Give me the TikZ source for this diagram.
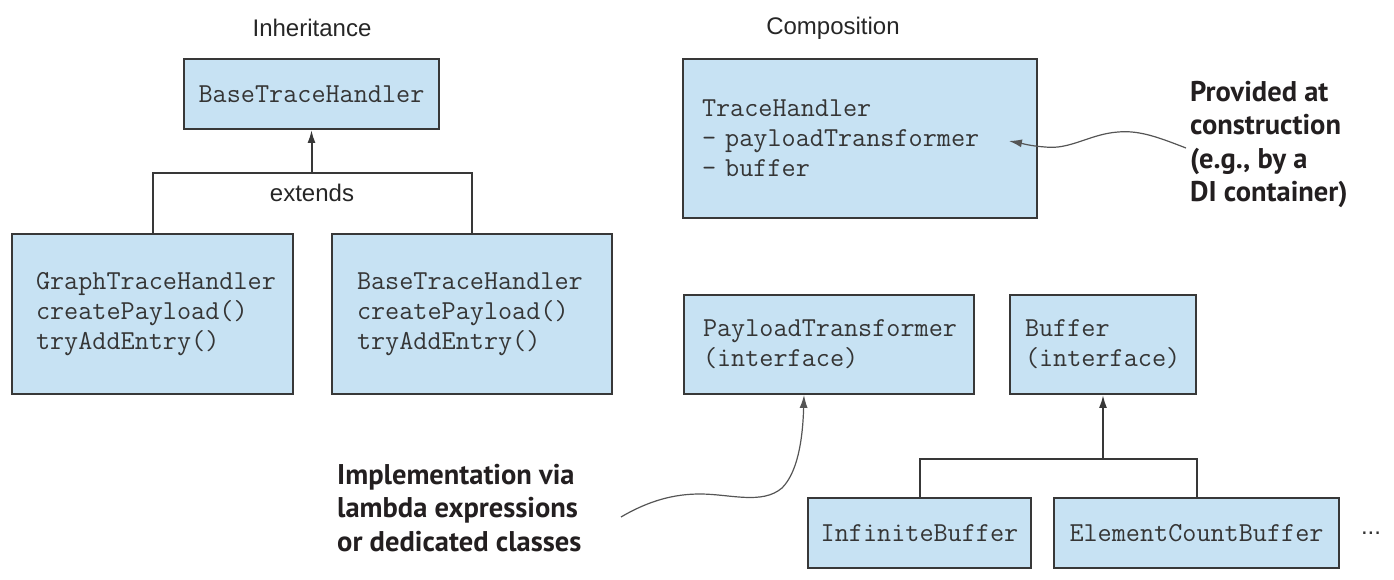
\documentclass[tikz,border=0pt]{standalone}
\usepackage{fontspec}
\setmainfont{Liberation Sans}
\newfontfamily\notefont{PT Sans}
\usetikzlibrary{arrows.meta,calc}
\definecolor{boxfill}{HTML}{C7E2F3}
\definecolor{boxline}{HTML}{383838}
\definecolor{codetext}{HTML}{353535}
\definecolor{notetext}{HTML}{231F20}
\definecolor{curveline}{HTML}{555555}
\begin{document}
\begin{tikzpicture}[x=1pt,y=-1pt,
  cls/.style={draw=boxline, line width=1.8pt, fill=boxfill, text=codetext,
    font=\ttfamily\fontsize{27.4}{30}\selectfont,
    inner ysep=0pt, inner xsep=0pt},
  lcls/.style 2 args={cls, text width=#1, inner xsep=#2, align=left,
    execute at begin node={\hyphenpenalty=10000\relax}},
  title/.style={font=\fontsize{24}{28}\selectfont, text=black!85, inner sep=0pt},
  note/.style={font=\notefont\bfseries\fontsize{28.5}{33.5}\selectfont, text=notetext,
    align=left, inner sep=0pt},
  link/.style={draw=boxline, line width=2pt},
  arr/.style={link, -{Latex[length=13pt,width=8pt]}},
  carr/.style={draw=curveline, line width=1.2pt, -{Latex[length=13pt,width=8pt]}}
]
\useasboundingbox (0,0) rectangle (1394,580);

% titles
\node[title] (tinh) at (312,28) {Inheritance};
\node[title] (tcomp) at (833,28) {Composition};

% inheritance side
\node[cls, minimum width=255pt, minimum height=70pt] (top) at (311.5,94) {BaseTraceHandler};
\node[lcls={233pt}{24pt}, minimum height=160pt] (lb) at (152.5,314)
  {GraphTraceHandler\\createPayload()\\tryAddEntry()};
\node[lcls={230pt}{25pt}, minimum height=160pt] (rb) at (472,314)
  {BaseTraceHandler\\createPayload()\\tryAddEntry()};
\coordinate (j1) at (311.5,173);
\draw[link] (lb.north) |- (j1) -| (rb.north);
\draw[arr] (j1) -- (top.south);
\node[title] (ext) at (312,193) {extends};

% composition side
\node[lcls={316pt}{19pt}, minimum height=159pt] (th) at (860,138.5)
  {TraceHandler\\- payloadTransformer\\- buffer};
\node[lcls={252pt}{19pt}, minimum height=99pt] (pt) at (829,344.5)
  {PayloadTransformer\\(interface)};
\node[lcls={156pt}{15pt}, minimum height=99pt] (bf) at (1103,344.5)
  {Buffer\\(interface)};
\node[cls, minimum width=223pt, minimum height=70pt] (ib) at (919.5,533) {InfiniteBuffer};
\node[cls, minimum width=285pt, minimum height=70pt] (ecb) at (1196.5,533) {ElementCountBuffer};
\node[title, text=black!80] (more) at (1371,533) {...};
\coordinate (j2) at (1103,459);
\draw[link] (ib.north) |- (j2) -| (ecb.north);
\draw[arr] (j2) -- (bf.south);

% notes
\node[note, anchor=north west] (prov) at (1190,81)
  {Provided at\\construction\\(e.g., by a\\DI container)};
\node[note, anchor=north west] (impl) at (337,464)
  {Implementation via\\lambda expressions\\or dedicated classes};

\coordinate (provstart) at (1186,148);
\coordinate (provtip) at ($(th.east)+(-29,2.5)$);
\draw[carr] (provstart) .. controls (1160,138) and (1140,130) .. (1118,132)
  .. controls (1090,134) and (1070,150) .. (1045,147)
  .. controls (1030,146) and (1020,143) .. (provtip);

\coordinate (implstart) at (621,517);
\coordinate (impltip) at ($(pt.south)+(-25,0)$);
\draw[carr] (implstart) .. controls (650,500) and (675,494) .. (700,494)
  .. controls (730,494) and (762,505) .. (782,488)
  .. controls (800,470) and (803,430) .. (impltip);
\end{tikzpicture}
\end{document}
